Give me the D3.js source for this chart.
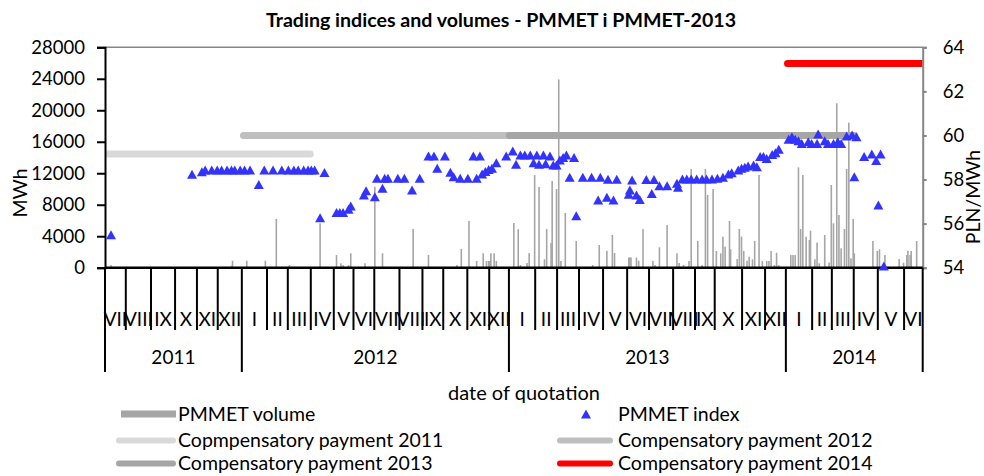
<!DOCTYPE html>
<html>
<head>
<meta charset="utf-8">
<script src="https://cdn.jsdelivr.net/npm/d3@7"></script>
<style>
  body { margin: 0; background: #fff; }
  text { font-family: Lato, "Liberation Sans", sans-serif; fill: #000; }
</style>
</head>
<body>
<svg id="chart" width="984" height="476"></svg>
<script>
// data
const title = "Trading indices and volumes - PMMET i PMMET-2013";
const years = [2011, 2012, 2013, 2014];
const firstMonth = 7; // July 2011
const monthNames = ["I", "II", "III", "IV", "V", "VI", "VII", "VIII", "IX", "X", "XI", "XII"];
// trading sessions in each month, Jul 2011 .. Jun 2014
const sessionsPerMonth = [19, 23, 22, 20, 19, 22,
  23, 19, 21, 21, 18, 19, 23, 21, 19, 22, 20, 18,
  24, 20, 20, 22, 22, 20, 22, 20, 18, 25, 21, 19,
  24, 18, 20, 22, 24, 17];

// [session, PLN/MWh]
const indexPoints = [[5,55.5],[79,58.24],[88,58.35],[91,58.43],[97,58.43],[102,58.43],[106,58.43],[111,58.43],
  [115,58.43],[118,58.43],[123,58.43],[127,58.43],[132,58.43],[140,57.78],[145,58.43],[153,58.43],[161,58.43],
  [167,58.43],[172,58.43],[176,58.43],[181,58.43],[185,58.43],[188,58.43],[191,58.43],[196,56.27],[200,58.32],
  [211,56.51],[214,56.51],[217,56.51],[222,56.65],[224,56.8],[236,57.3],[238,57.49],[246,57.22],[248,58.06],
  [253,57.6],[255,58.06],[258,58.06],[267,58.06],[273,58.06],[280,57.53],[287,58.06],[295,59.07],[300,59.07],
  [303,58.51],[310,59.07],[315,58.33],[318,58.13],[324,58.06],[331,58.06],[336,59.07],[339,58.06],[342,59.07],
  [344,58.25],[347,58.36],[350,58.46],[353,58.51],[357,58.76],[366,59.07],[372,59.3],[375,58.69],[379,59.11],
  [383,59.11],[388,59.11],[391,58.76],[394,59.11],[396,58.69],[400,59.11],[402,58.72],[406,59.07],[409,58.66],
  [412,58.66],[415,58.89],[418,59.0],[421,59.11],[424,58.1],[428,59.0],[430,56.36],[436,58.1],[444,58.1],
  [450,57.07],[452,58.1],[458,57.2],[459,58.01],[464,57.07],[467,58.01],[478,57.33],[479,57.53],[481,57.98],
  [485,57.3],[488,57.1],[494,58.0],[499,57.37],[501,58.0],[506,57.72],[513,57.72],[522,57.83],[523,57.65],
  [527,58.02],[531,58.02],[535,58.02],[540,58.02],[545,58.02],[549,58.02],[554,58.02],[559,58.06],[564,58.1],
  [569,58.25],[572,58.31],[578,58.43],[581,58.51],[584,58.56],[587,58.61],[592,58.66],[595,58.58],[598,59.04],
  [601,59.04],[604,58.96],[609,59.14],[612,59.22],[615,59.37],[624,59.83],[627,59.94],[630,59.83],[633,59.76],
  [636,59.64],[642,59.72],[645,59.64],[650,59.64],[651,60.07],[657,59.76],[660,59.64],[665,59.64],[669,59.72],
  [672,59.64],[677,59.98],[682,60.02],[684,58.13],[686,59.94],[693,59.04],[700,59.16],[704,58.86],[706,56.85],
  [708,59.16],[711,54.08]];

// [session, MWh]
const volumeBars = [[5,340],[115,250],[116,890],[129,890],[146,890],[156,6190],[168,340],[196,5640],[211,1610],
  [215,560],[217,340],[222,340],[224,1830],[237,560],[246,10290],[253,1830],[281,4920],[295,1610],[321,340],
  [325,2380],[332,5930],[339,850],[345,1830],[348,850],[350,850],[351,850],[352,1830],[355,1830],[357,850],
  [373,5680],[377,4900],[379,340],[385,600],[387,1860],[392,11760],[396,10250],[401,1070],[403,4900],[407,3140],
  [408,11010],[412,10000],[414,23930],[416,850],[420,6950],[430,3390],[445,340],[451,2880],[458,2140],[463,4150],
  [465,1860],[478,1300],[479,1300],[480,1300],[485,1300],[487,890],[491,4900],[500,850],[502,340],[506,2590],
  [513,5420],[522,1830],[524,600],[528,340],[533,850],[535,12540],[541,3390],[545,340],[548,12540],[550,9240],
  [555,10000],[558,2120],[562,1830],[564,3940],[566,2670],[570,5930],[571,2330],[577,1100],[579,4920],[581,3940],
  [583,2120],[586,890],[588,1400],[591,1070],[593,3390],[597,11780],[600,850],[604,850],[606,850],[608,2120],
  [611,340],[613,1900],[615,340],[626,1610],[628,1610],[630,1610],[633,12750],[635,4920],[637,11780],[640,3940],
  [643,3520],[644,4700],[648,1070],[650,3180],[652,560],[657,4150],[661,640],[663,10510],[665,5640],[668,20890],
  [670,6700],[672,2460],[675,4920],[677,12540],[679,18420],[681,1190],[683,6190],[684,1830],[701,3390],[705,2120],
  [707,2330],[712,1610],[725,1100],[729,640],[732,1610],[733,2160],[735,1610],[736,2120],[741,3390]];

// compensatory payments, PLN/MWh, valid over a session range
const compNames = ["Copmpensatory payment 2011", "Compensatory payment 2012", "Compensatory payment 2013", "Compensatory payment 2014"];
const compValues = [59.16, 60.0, 60.0, 63.26];
const compFrom = [0, 126, 369, 623];
const compTo = [187, 454, 684, 746];

const leftTicks = [0, 4000, 8000, 12000, 16000, 20000, 24000, 28000];
const rightTicks = [54, 56, 58, 60, 62, 64];

// styles
const compColors = ["#d9d9d9", "#bfbfbf", "#a6a6a6", "#ff0000"];
const volColor = "#a6a6a6";
const idxColor = "#3333ff";

// layout
const plot = { left: 105, right: 922.7, top: 47.3, bottom: 267.7 };
const tickFs = 18.5, catFs = 19, legFs = 19.5;

const svg = d3.select("#chart");

const monthEdges = [0];
sessionsPerMonth.forEach(n => monthEdges.push(monthEdges[monthEdges.length - 1] + n));
const totalSessions = monthEdges[monthEdges.length - 1];

const x = d3.scaleLinear().domain([0, totalSessions]).range([plot.left, plot.right]);
const yL = d3.scaleLinear().domain([0, 28000]).range([plot.bottom, plot.top]);
const yR = d3.scaleLinear().domain([54, 64]).range([plot.bottom, plot.top]);

svg.append("defs").append("clipPath").attr("id", "plotClip")
  .append("rect")
  .attr("x", plot.left).attr("y", plot.top - 10)
  .attr("width", plot.right - plot.left).attr("height", plot.bottom - plot.top + 10);

// title
svg.append("text")
  .attr("x", 501).attr("y", 27)
  .attr("text-anchor", "middle")
  .attr("font-weight", "bold")
  .attr("font-size", 19.6)
  .text(title);

// top border
svg.append("line")
  .attr("x1", plot.left).attr("x2", plot.right)
  .attr("y1", plot.top).attr("y2", plot.top)
  .attr("stroke", "#868686").attr("stroke-width", 1.5);

// compensatory payment lines
svg.append("g").attr("clip-path", "url(#plotClip)")
  .selectAll("line")
  .data(compNames.map((n, i) => i))
  .join("line")
  .attr("x1", i => x(compFrom[i] + 0.5))
  .attr("x2", i => x(compTo[i] + 0.5))
  .attr("y1", i => yR(compValues[i]))
  .attr("y2", i => yR(compValues[i]))
  .attr("stroke", i => compColors[i])
  .attr("stroke-width", 7)
  .attr("stroke-linecap", "round");

// volume bars
const barW = 1.6;
svg.append("g")
  .selectAll("rect")
  .data(volumeBars)
  .join("rect")
  .attr("x", d => x(d[0] + 0.5) - barW / 2)
  .attr("width", barW)
  .attr("y", d => yL(d[1]))
  .attr("height", d => yL(0) - yL(d[1]))
  .attr("fill", volColor);

// left axis
const axL = svg.append("g")
  .attr("transform", `translate(${plot.left},0)`)
  .call(d3.axisLeft(yL).tickValues(leftTicks).tickSize(8).tickPadding(12).tickFormat(d3.format("d")));
axL.select(".domain").attr("stroke", "#000").attr("stroke-width", 2);
axL.selectAll(".tick line").attr("stroke", "#000").attr("stroke-width", 2);
axL.selectAll("text").attr("font-size", tickFs).attr("font-family", null);

// right axis
const axR = svg.append("g")
  .attr("transform", `translate(${plot.right},0)`)
  .call(d3.axisRight(yR).tickValues(rightTicks).tickSize(4).tickPadding(16));
axR.select(".domain").attr("stroke", "#868686").attr("stroke-width", 2);
axR.selectAll(".tick line").attr("stroke", "#868686").attr("stroke-width", 2);
axR.selectAll("text").attr("font-size", tickFs).attr("font-family", null);

// category axis: months and years
const catAxis = svg.append("g");
catAxis.append("line")
  .attr("x1", plot.left).attr("x2", plot.right)
  .attr("y1", plot.bottom).attr("y2", plot.bottom)
  .attr("stroke", "#000").attr("stroke-width", 2.5);

const monthIdx = sessionsPerMonth.map((n, i) => i);
const isYearEdge = i => i === 0 || i === sessionsPerMonth.length || (firstMonth - 1 + i) % 12 === 0;

catAxis.selectAll(".mtick")
  .data(monthEdges.map((e, i) => i))
  .join("line")
  .attr("class", "mtick")
  .attr("x1", i => x(monthEdges[i]))
  .attr("x2", i => x(monthEdges[i]))
  .attr("y1", plot.bottom)
  .attr("y2", i => isYearEdge(i) ? 372 : 330)
  .attr("stroke", "#000").attr("stroke-width", 2);

catAxis.selectAll(".mlabel")
  .data(monthIdx)
  .join("text")
  .attr("class", "mlabel")
  .attr("x", i => x((monthEdges[i] + monthEdges[i + 1]) / 2))
  .attr("y", 326)
  .attr("text-anchor", "middle")
  .attr("font-size", catFs)
  .text(i => monthNames[(firstMonth - 1 + i) % 12]);

// year spans
const yearEdges = monthEdges.map((e, i) => i).filter(isYearEdge).map(i => monthEdges[i]);
catAxis.selectAll(".ylabel")
  .data(years)
  .join("text")
  .attr("class", "ylabel")
  .attr("x", (d, i) => x((yearEdges[i] + yearEdges[i + 1]) / 2))
  .attr("y", 364)
  .attr("text-anchor", "middle")
  .attr("font-size", catFs)
  .text(d => d);

// index triangles
const tri = "M0,-4.5L5,4.5L-5,4.5Z";
svg.append("g")
  .selectAll("path")
  .data(indexPoints)
  .join("path")
  .attr("d", tri)
  .attr("transform", d => `translate(${x(d[0] + 0.5)},${yR(d[1])})`)
  .attr("fill", idxColor);

// axis titles
svg.append("text")
  .attr("transform", "translate(27,193) rotate(-90)")
  .attr("text-anchor", "middle").attr("font-size", legFs)
  .text("MWh");
svg.append("text")
  .attr("transform", "translate(980,197) rotate(-90)")
  .attr("text-anchor", "middle").attr("font-size", legFs)
  .text("PLN/MWh");
svg.append("text")
  .attr("x", 524).attr("y", 400)
  .attr("text-anchor", "middle").attr("font-size", 20)
  .text("date of quotation");

// legend
const legend = svg.append("g");
const col1 = { sx: 116, ex: 176, tx: 178 };
const col2 = { sx: 557, ex: 613, tx: 618 };
const rowY = [414, 440.5, 463.5];

legend.append("rect")
  .attr("x", 121).attr("y", rowY[0] - 3.5).attr("width", 55).attr("height", 7)
  .attr("fill", volColor);
legend.append("text").attr("x", col1.tx).attr("y", rowY[0]).attr("dy", "0.35em")
  .attr("font-size", legFs).text("PMMET volume");

legend.append("path")
  .attr("d", tri)
  .attr("transform", `translate(586,${rowY[0]})`)
  .attr("fill", idxColor);
legend.append("text").attr("x", col2.tx).attr("y", rowY[0]).attr("dy", "0.35em")
  .attr("font-size", legFs).text("PMMET index");

const compSlots = [
  { col: col1, row: 1 }, { col: col2, row: 1 },
  { col: col1, row: 2 }, { col: col2, row: 2 }
];
compNames.forEach((name, i) => {
  const s = compSlots[i];
  legend.append("line")
    .attr("x1", s.col.sx + 3).attr("x2", s.col.ex - 3)
    .attr("y1", rowY[s.row]).attr("y2", rowY[s.row])
    .attr("stroke", compColors[i]).attr("stroke-width", 6)
    .attr("stroke-linecap", "round");
  legend.append("text").attr("x", s.col.tx).attr("y", rowY[s.row]).attr("dy", "0.35em")
    .attr("font-size", legFs).text(name);
});
</script>
</body>
</html>
